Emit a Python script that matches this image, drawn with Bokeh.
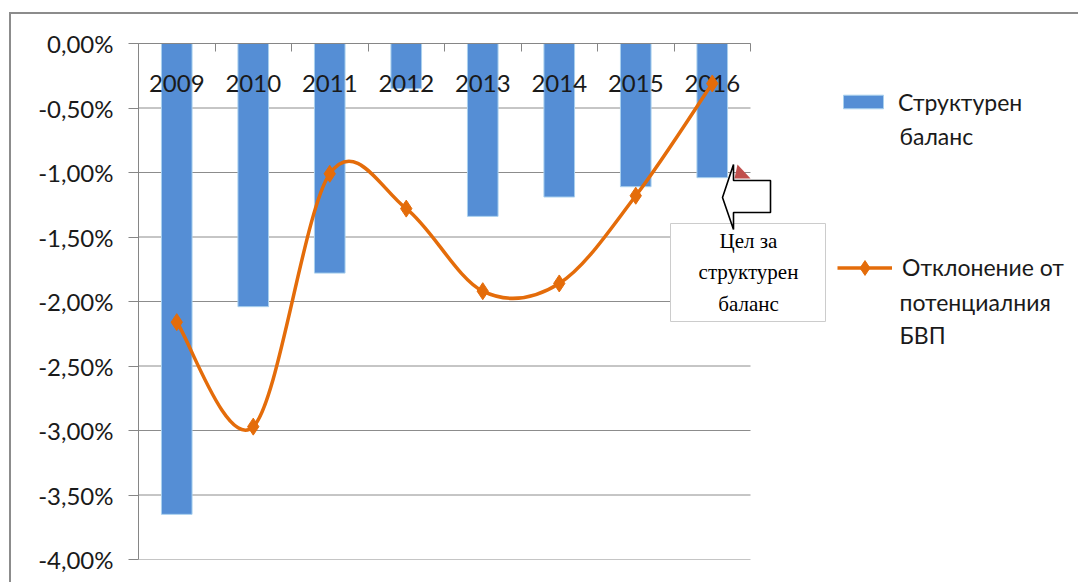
from bokeh.plotting import figure
from bokeh.models import (Range1d, LinearAxis, FixedTicker, BoxAnnotation, InlineStyleSheet,
                          PolyAnnotation, Label, Legend, LegendItem)
from bokeh.core.properties import value
from bokeh.embed import file_html
from bokeh.resources import INLINE

# ---------------- data ----------------
years = ["2009", "2010", "2011", "2012", "2013", "2014", "2015", "2016"]
structural_balance = [-3.65, -2.04, -1.78, -0.35, -1.34, -1.19, -1.11, -1.04]
output_gap = [-2.16, -2.97, -1.01, -1.28, -1.92, -1.86, -1.18, -0.31]
y_ticks = [0.0, -0.5, -1.0, -1.5, -2.0, -2.5, -3.0, -3.5, -4.0]
y_tick_labels = ["0,00%", "-0,50%", "-1,00%", "-1,50%", "-2,00%",
                 "-2,50%", "-3,00%", "-3,50%", "-4,00%"]
# series names, one list entry per wrapped line
bar_name_lines = ["Структурен", "баланс"]
line_name_lines = ["Отклонение от", "потенциалния", "БВП"]
callout_text = "Цел за\nструктурен\nбаланс"

FONT = "Lato"
TXT = "#1a1a1a"
AXIS = "#868686"
BLUE = "#558ed5"
ORANGE = "#e46c0a"

n = len(years)
xc = [i + 0.5 for i in range(n)]

PLOT_W = 612          # width in px of the category area
FRAME_W = 940         # frame runs to the right edge (legend / callout live there)
FRAME_H = 516
TOP = 43
LEFT = 138
x_end = n * FRAME_W / PLOT_W

p = figure(frame_width=FRAME_W, frame_height=FRAME_H,
           min_border_left=LEFT, min_border_right=0,
           min_border_top=TOP, min_border_bottom=23,
           x_range=Range1d(0, x_end), y_range=Range1d(-4, 0),
           x_axis_location=None, y_axis_location=None,
           output_backend="svg", toolbar_location=None)
p.center = []
p.outline_line_color = None
p.background_fill_color = "white"
p.border_fill_color = "white"
p.stylesheets = [InlineStyleSheet(css="""
:host { position: relative; }
:host::after { content: ''; position: absolute; left: 9px; top: 12px; right: 0; bottom: 0;
  border-top: 2px solid #8c8c8c; border-left: 2px solid #8c8c8c; pointer-events: none; z-index: 5; }
""")]

# left axis
yaxis = LinearAxis(ticker=FixedTicker(ticks=y_ticks),
                   major_label_overrides={t: l for t, l in zip(y_ticks, y_tick_labels)})
yaxis.axis_line_color = AXIS
yaxis.major_tick_line_color = AXIS
yaxis.major_tick_out = 10
yaxis.major_tick_in = 0
yaxis.minor_tick_out = 0
yaxis.minor_tick_in = 0
yaxis.major_label_standoff = 15
yaxis.major_label_text_font = FONT
yaxis.major_label_text_font_size = "24px"
yaxis.major_label_text_color = TXT
p.add_layout(yaxis, "left")

# top category axis (ticks between categories)
cat_edges = list(range(n + 1))
xaxis = LinearAxis(ticker=FixedTicker(ticks=cat_edges), bounds=(0, n),
                   major_label_overrides={e: "" for e in cat_edges})
xaxis.axis_line_color = AXIS
xaxis.major_tick_line_color = AXIS
xaxis.major_tick_in = 8
xaxis.major_tick_out = 0
xaxis.minor_tick_in = 0
xaxis.minor_tick_out = 0
xaxis.major_label_standoff = 0
p.add_layout(xaxis, "above")

# horizontal gridlines over the category area
p.segment(x0=0, x1=n, y0=y_ticks, y1=y_ticks, line_color="#8c8c8c", line_width=1)

# bars
bars = p.vbar(x=xc, top=0, bottom=structural_balance, width=0.4,
              fill_color=BLUE, line_color="#a9d0ee", line_width=1)

# category labels (drawn below the zero line, over the bars)
p.text(x=xc, y=0, text=years, y_offset=40, text_align="center", text_baseline="middle",
       text_font=value(FONT), text_font_size="24px", text_color=TXT)

# smoothed line (Catmull-Rom style bezier segments through the data points)
pts = list(zip(xc, output_gap))
bx0, by0, bx1, by1, cx0, cy0, cx1, cy1 = [], [], [], [], [], [], [], []
for i in range(n - 1):
    p0 = pts[max(i - 1, 0)]
    p1 = pts[i]
    p2 = pts[i + 1]
    p3 = pts[min(i + 2, n - 1)]
    bx0.append(p1[0]); by0.append(p1[1])
    bx1.append(p2[0]); by1.append(p2[1])
    cx0.append(p1[0] + (p2[0] - p0[0]) / 6.0); cy0.append(p1[1] + (p2[1] - p0[1]) / 6.0)
    cx1.append(p2[0] - (p3[0] - p1[0]) / 6.0); cy1.append(p2[1] - (p3[1] - p1[1]) / 6.0)
curve = p.bezier(x0=bx0, y0=by0, x1=bx1, y1=by1, cx0=cx0, cy0=cy0, cx1=cx1, cy1=cy1,
                 line_color=ORANGE, line_width=3.5)
marks = p.scatter(x=xc, y=output_gap, marker="diamond", size=17,
                  fill_color=ORANGE, line_color=ORANGE)


# legends (one per series so each glyph can have its own size)
def make_legend(label, renderers, glyph_w, glyph_h, center_y, left_x):
    item_h = 40
    lg = Legend(items=[LegendItem(label=label, renderers=renderers)],
                location=(left_x - LEFT - 5, TOP + FRAME_H - (center_y + item_h / 2)))
    lg.label_text_font = FONT
    lg.label_text_font_size = "23px"
    lg.label_text_color = TXT
    lg.glyph_width = glyph_w
    lg.glyph_height = glyph_h
    lg.label_height = item_h
    lg.label_standoff = 10
    lg.padding = 0
    lg.margin = 0
    lg.border_line_color = None
    lg.background_fill_alpha = 0
    return lg


p.add_layout(make_legend(bar_name_lines[0], [bars], 50, 17, 101.5, 843))
p.add_layout(make_legend(line_name_lines[0], [curve, marks], 55, 37, 267, 842))

# wrapped continuation lines of the legend names
for txt, yy in [(bar_name_lines[1], 135), (line_name_lines[1], 301), (line_name_lines[2], 334)]:
    p.add_layout(Label(x=899, y=yy, x_units="canvas", y_units="canvas", text=txt,
                       text_align="left", text_baseline="middle", text_font=FONT,
                       text_font_size="23px", text_color=TXT))

# callout box + arrow
red_tri = PolyAnnotation(xs=[734, 737, 750], ys=[178, 164, 178], xs_units="canvas", ys_units="canvas",
                         fill_color="#c0504d", fill_alpha=1, line_color=None)
p.add_layout(red_tri)
box = BoxAnnotation(left=670, right=825, top=223, bottom=321,
                    left_units="canvas", right_units="canvas", top_units="canvas", bottom_units="canvas",
                    fill_color="white", fill_alpha=1, line_color="#cccccc", line_alpha=1, line_width=1)
p.add_layout(box)
arrow = PolyAnnotation(xs=[722, 733, 733, 770, 770, 733, 733], ys=[197, 164, 180, 180, 212, 212, 229],
                       xs_units="canvas", ys_units="canvas",
                       fill_color="white", fill_alpha=1, line_color="black", line_alpha=1, line_width=1.6)
p.add_layout(arrow)
p.add_layout(Label(x=748, y=272, x_units="canvas", y_units="canvas", text=callout_text,
                   text_align="center", text_baseline="middle", text_font="Liberation Serif",
                   text_font_size="21px", text_line_height=1.3, text_color="black"))

open("out.html", "w").write(file_html(p, INLINE))
